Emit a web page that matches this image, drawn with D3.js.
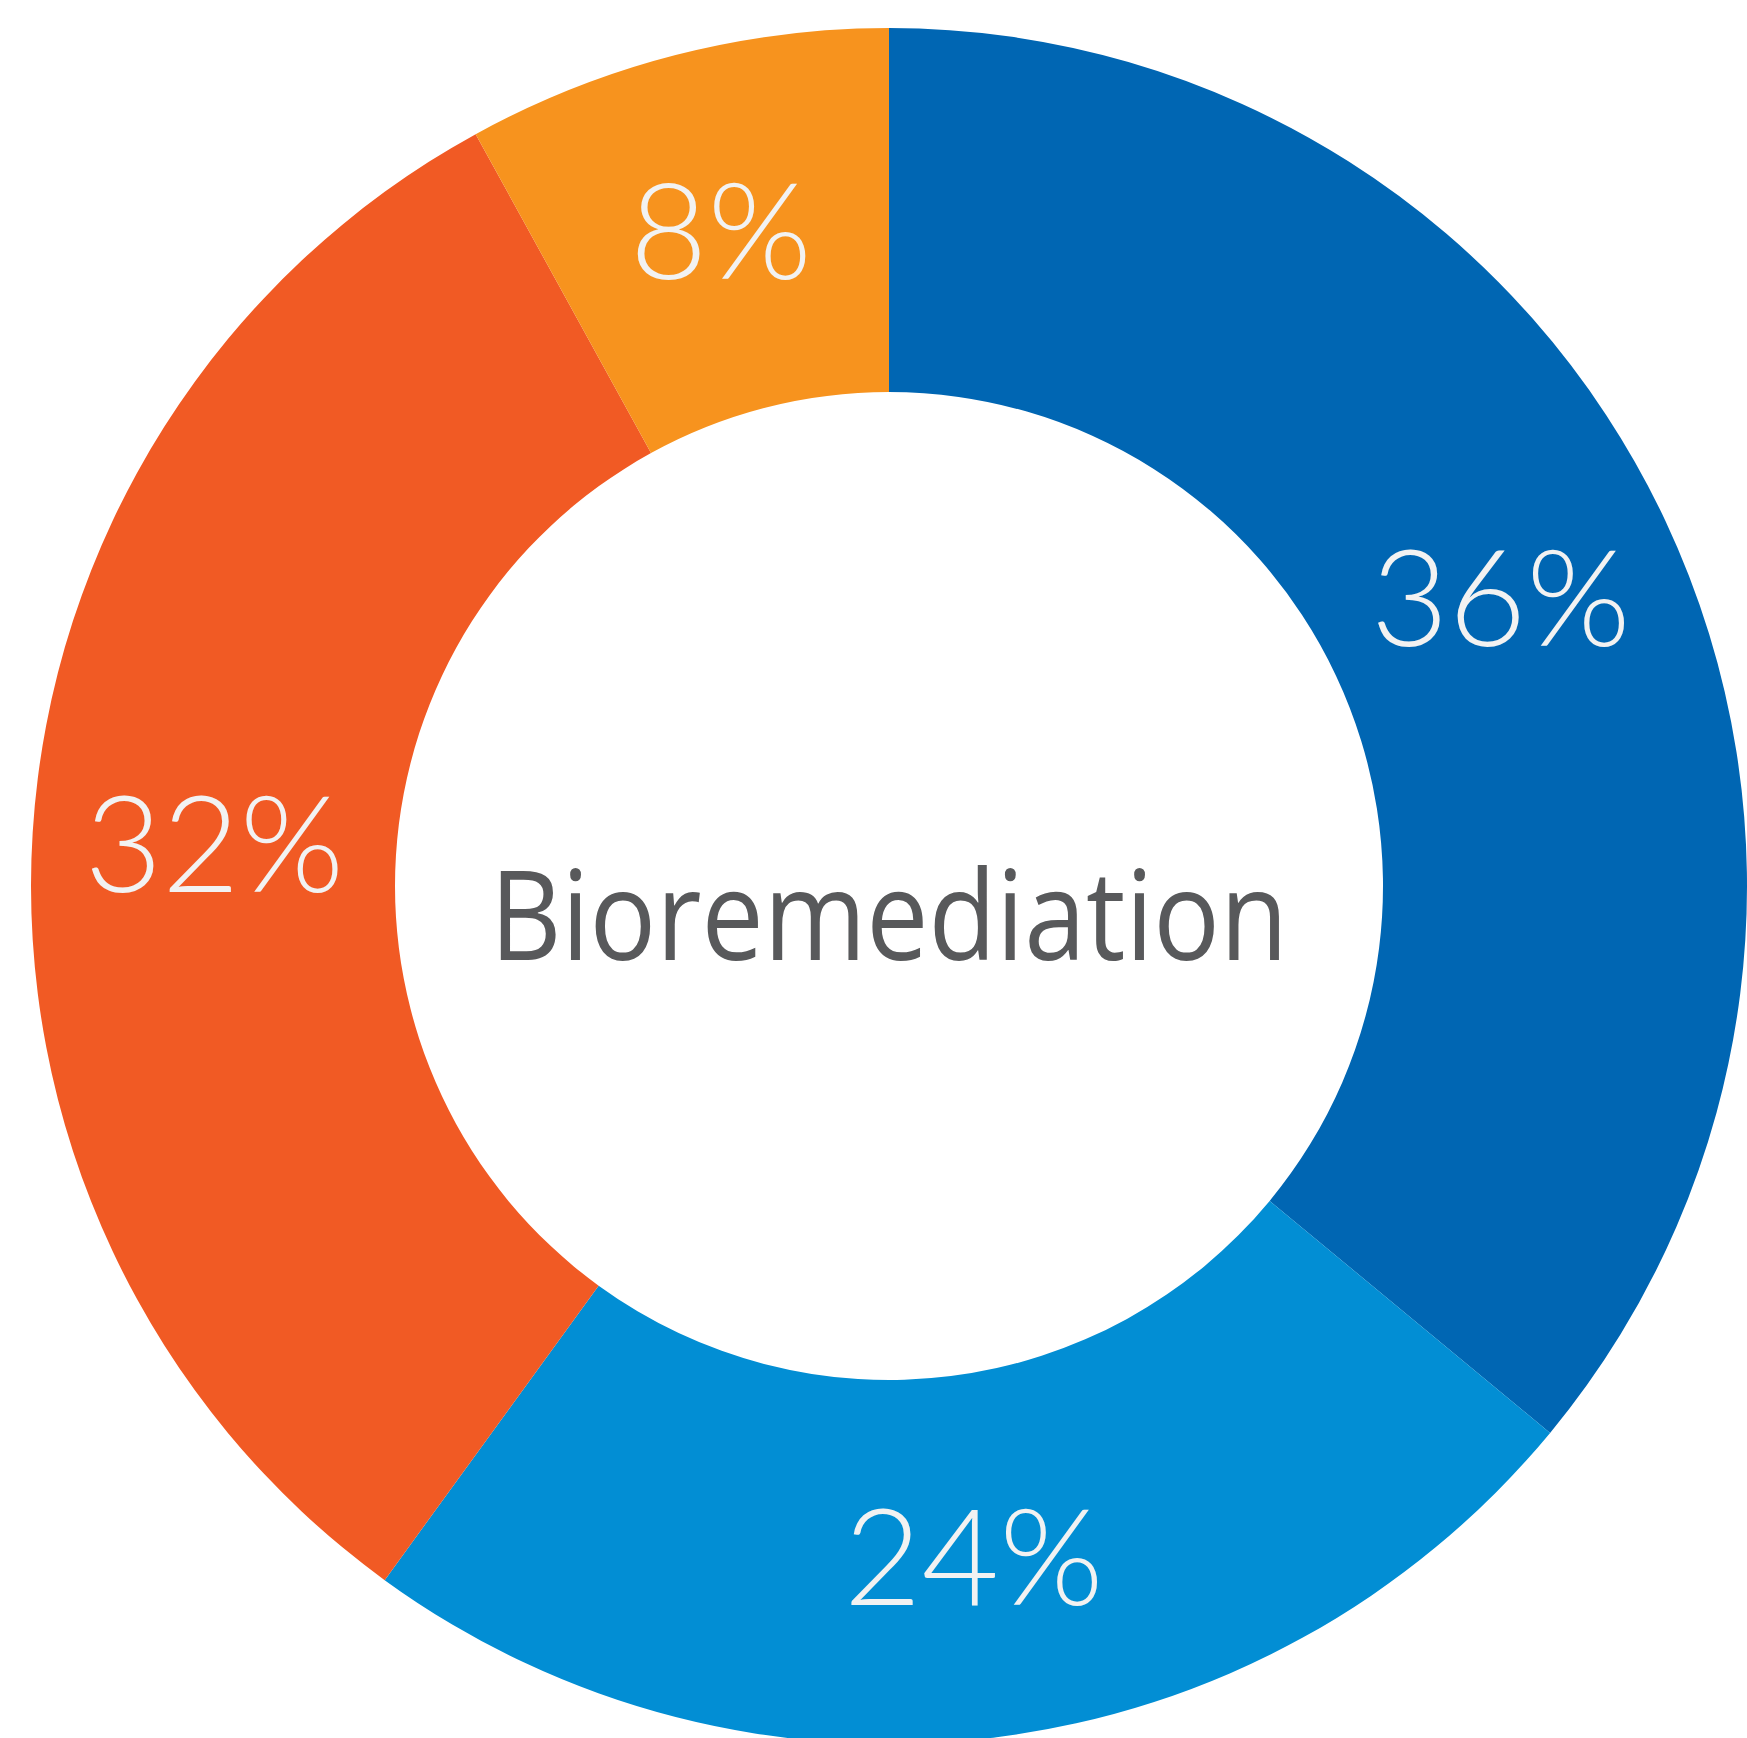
<!DOCTYPE html>
<html>
<head>
<meta charset="utf-8">
<script src="https://cdn.jsdelivr.net/npm/d3@7"></script>
<style>
html,body{margin:0;padding:0;background:#fff;overflow:hidden;}
svg{display:block;}
</style>
</head>
<body>
<svg id="chart" width="1747" height="1738"></svg>
<script>
const categories = ["A", "B", "C", "D"];
const values = [36, 24, 32, 8];
const labels = ["36%", "24%", "32%", "8%"];
const colors = ["#0066B3", "#028ED4", "#F15A24", "#F7931E"];
const centerTitle = "Bioremediation";

const W = 1747, H = 1738;
const cx = 889, cy = 886;
const outerR = 858, innerR = 494;

const svg = d3.select("#chart");
const g = svg.append("g").attr("transform", `translate(${cx},${cy})`);

const data = categories.map((c, i) => ({cat: c, value: values[i], label: labels[i], color: colors[i]}));

const pie = d3.pie().value(d => d.value).sort(null);
const arc = d3.arc().innerRadius(innerR).outerRadius(outerR);
const arcs = pie(data);

g.selectAll("path.slice").data(arcs).join("path")
  .attr("class", "slice")
  .attr("d", arc)
  .attr("fill", d => d.data.color);

g.selectAll("text.lbl").data(arcs).join("text")
  .attr("class", "lbl")
  .attr("x", d => arc.centroid(d)[0])
  .attr("y", d => arc.centroid(d)[1])
  .attr("text-anchor", "middle")
  .attr("dy", "0.36em")
  .attr("fill", "#F2F2F2")
  .style("font-family", "Lato, sans-serif")
  .style("font-weight", 300)
  .style("font-size", "134px")
  .text(d => d.data.label);

const title = g.append("text")
  .attr("x", 0)
  .attr("y", 74)
  .attr("text-anchor", "middle")
  .attr("fill", "#58595B")
  .style("font-family", "'Open Sans', sans-serif")
  .style("font-weight", 400)
  .style("font-size", "124px")
  .text(centerTitle);
title.attr("textLength", 798).attr("lengthAdjust", "spacingAndGlyphs");
</script>
</body>
</html>
